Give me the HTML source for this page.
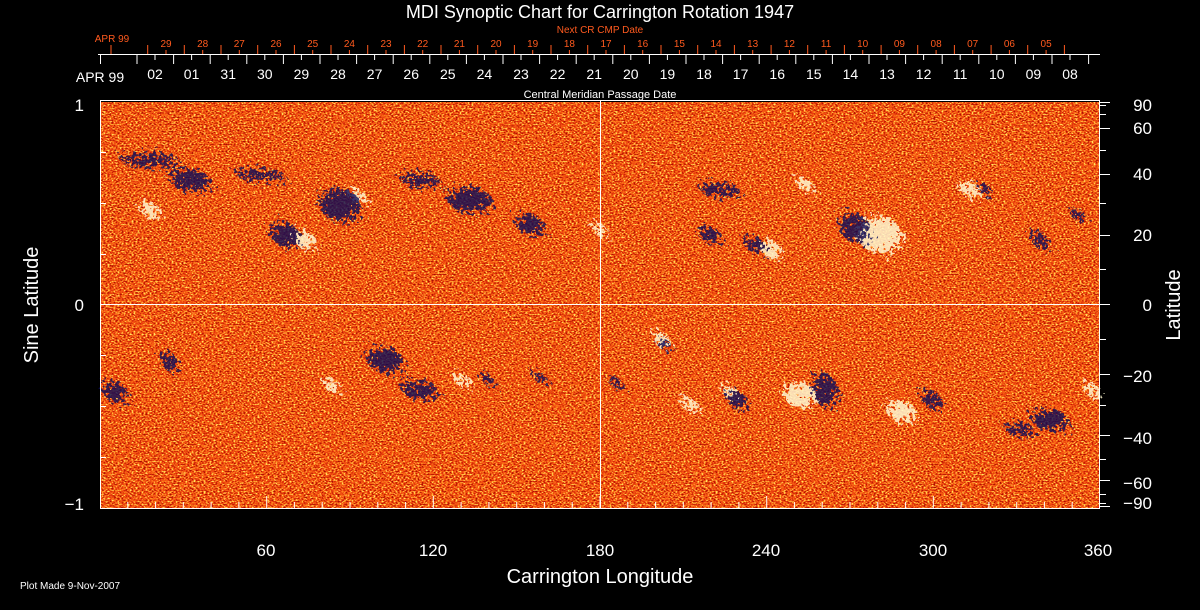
<!DOCTYPE html>
<html><head><meta charset="utf-8"><style>
html,body{margin:0;padding:0;background:#000;}
svg{display:block;font-family:"Liberation Sans",sans-serif;}
</style></head><body>
<svg width="1200" height="610" viewBox="0 0 1200 610">
<defs>
<filter id="noise" x="0" y="0" width="100%" height="100%" color-interpolation-filters="sRGB">
<feTurbulence type="fractalNoise" baseFrequency="0.5 0.7" numOctaves="2" seed="7" result="t"/>
<feColorMatrix in="t" type="matrix" values="1 0 0 0 0  1 0 0 0 0  1 0 0 0 0  0 0 0 0 1"/>
<feComponentTransfer>
<feFuncR type="linear" slope="2.4" intercept="-0.7"/>
<feFuncG type="linear" slope="2.4" intercept="-0.7"/>
<feFuncB type="linear" slope="2.4" intercept="-0.7"/>
</feComponentTransfer>
<feComponentTransfer>
<feFuncR type="table" tableValues="0.65 0.85 0.93 0.98 1 1"/>
<feFuncG type="table" tableValues="0.06 0.15 0.27 0.38 0.58 0.9"/>
<feFuncB type="table" tableValues="0 0.03 0.06 0.08 0.12 0.4"/>
</feComponentTransfer>
</filter>
<filter id="speck" x="-50%" y="-50%" width="200%" height="200%" color-interpolation-filters="sRGB">
<feTurbulence type="fractalNoise" baseFrequency="0.3" numOctaves="2" seed="3" result="n"/>
<feDisplacementMap in="SourceGraphic" in2="n" scale="30"/>
</filter>
</defs>
<rect x="100" y="102" width="1000" height="406" fill="#e04818"/>
<rect x="100" y="102" width="1000" height="406" filter="url(#noise)"/>
<g filter="url(#speck)" fill="#fff8d0" opacity="0.85">
<ellipse cx="880" cy="235" rx="22" ry="18"/><ellipse cx="772" cy="250" rx="10" ry="8"/>
<ellipse cx="305" cy="240" rx="10" ry="8"/><ellipse cx="358" cy="196" rx="8" ry="6"/>
<ellipse cx="662" cy="340" rx="8" ry="7"/><ellipse cx="800" cy="395" rx="16" ry="12"/>
<ellipse cx="902" cy="412" rx="14" ry="10"/><ellipse cx="332" cy="385" rx="8" ry="6"/>
<ellipse cx="462" cy="380" rx="8" ry="6"/><ellipse cx="730" cy="392" rx="7" ry="6"/>
<ellipse cx="970" cy="190" rx="10" ry="7"/><ellipse cx="805" cy="185" rx="8" ry="6"/>
<ellipse cx="600" cy="230" rx="6" ry="6"/><ellipse cx="150" cy="210" rx="10" ry="7"/>
<ellipse cx="1092" cy="390" rx="6" ry="8"/><ellipse cx="690" cy="405" rx="8" ry="6"/>
</g>
<g filter="url(#speck)" fill="#0c0c58" opacity="0.8">
<ellipse cx="190" cy="180" rx="20" ry="10"/><ellipse cx="340" cy="205" rx="20" ry="16"/>
<ellipse cx="285" cy="235" rx="14" ry="12"/><ellipse cx="470" cy="200" rx="22" ry="12"/>
<ellipse cx="710" cy="235" rx="10" ry="8"/><ellipse cx="755" cy="245" rx="10" ry="7"/>
<ellipse cx="855" cy="228" rx="14" ry="14"/><ellipse cx="1040" cy="240" rx="8" ry="8"/>
<ellipse cx="115" cy="392" rx="12" ry="10"/><ellipse cx="170" cy="362" rx="8" ry="9"/>
<ellipse cx="385" cy="360" rx="18" ry="12"/><ellipse cx="665" cy="345" rx="6" ry="5"/>
<ellipse cx="737" cy="400" rx="10" ry="8"/><ellipse cx="825" cy="390" rx="12" ry="16"/>
<ellipse cx="932" cy="400" rx="10" ry="8"/><ellipse cx="1050" cy="420" rx="18" ry="10"/>
<ellipse cx="530" cy="225" rx="14" ry="10"/><ellipse cx="1078" cy="215" rx="6" ry="6"/>
<ellipse cx="985" cy="190" rx="6" ry="5"/><ellipse cx="540" cy="378" rx="6" ry="5"/>
<ellipse cx="616" cy="383" rx="6" ry="5"/><ellipse cx="488" cy="380" rx="6" ry="5"/>
<ellipse cx="150" cy="160" rx="30" ry="6"/><ellipse cx="260" cy="175" rx="25" ry="5"/>
<ellipse cx="420" cy="180" rx="20" ry="6"/><ellipse cx="720" cy="190" rx="20" ry="6"/>
<ellipse cx="420" cy="390" rx="18" ry="8"/><ellipse cx="1020" cy="430" rx="15" ry="5"/>
</g>
<g stroke="#fff" stroke-width="1" fill="none">
<rect x="100.5" y="100.5" width="999" height="408"/>
<line x1="600.5" y1="100" x2="600.5" y2="508"/>
<line x1="100" y1="304.5" x2="1100" y2="304.5"/>
<line x1="98" y1="54.5" x2="1100" y2="54.5"/>
</g>
<g stroke="#fff">
<path d="M127.8 508v-6M155.6 508v-6M183.3 508v-6M211.1 508v-6M238.9 508v-6M266.7 508v-12M294.4 508v-6M322.2 508v-6M350 508v-6M377.8 508v-6M405.6 508v-6M433.3 508v-12M461.1 508v-6M488.9 508v-6M516.7 508v-6M544.4 508v-6M572.2 508v-6M600 508v-12M627.8 508v-6M655.6 508v-6M683.3 508v-6M711.1 508v-6M738.9 508v-6M766.7 508v-12M794.4 508v-6M822.2 508v-6M850 508v-6M877.8 508v-6M905.6 508v-6M933.3 508v-12M961.1 508v-6M988.9 508v-6M1016.7 508v-6M1044.4 508v-6M1072.2 508v-6"/>
<path d="M100 152.5h6M100 203.5h6M100 254.5h6M100 355.5h6M100 406.5h6M100 457.5h6"/>
<path d="M1100 102.5h10M1100 105.5h6M1100 114.5h6M1100 128.5h10M1100 150.5h6M1100 174.5h10M1100 203.5h6M1100 235.5h10M1100 269.5h6M1100 304.5h10M1100 339.5h6M1100 374.5h10M1100 405.5h6M1100 435.5h10M1100 459.5h6M1100 480.5h10M1100 494.5h6M1100 503.5h6M1100 506.5h10"/>
<path d="M155 55v5M191.6 55v5M228.2 55v5M264.8 55v5M301.4 55v5M338 55v5M374.6 55v5M411.2 55v5M447.8 55v5M484.4 55v5M521 55v5M557.6 55v5M594.2 55v5M630.8 55v5M667.4 55v5M704 55v5M740.6 55v5M777.2 55v5M813.8 55v5M850.4 55v5M887 55v5M923.6 55v5M960.2 55v5M996.8 55v5M1033.4 55v5M1070 55v5"/>
<path d="M100.5 55v9M137 55v9M173.6 55v9M210.2 55v9M246.8 55v9M283.4 55v9M320 55v9M356.6 55v9M393.2 55v9M429.8 55v9M466.4 55v9M503 55v9M539.6 55v9M576.2 55v9M612.8 55v9M649.4 55v9M686 55v9M722.6 55v9M759.2 55v9M795.8 55v9M832.4 55v9M869 55v9M905.6 55v9M942.2 55v9M978.8 55v9M1015.4 55v9M1052 55v9M1088.6 55v9"/>
</g>
<g stroke="#ff5a1e">
<path d="M166 50v4M202.7 50v4M239.3 50v4M276 50v4M312.7 50v4M349.4 50v4M386 50v4M422.7 50v4M459.4 50v4M496 50v4M532.7 50v4M569.4 50v4M606 50v4M642.7 50v4M679.4 50v4M716 50v4M752.7 50v4M789.4 50v4M826.1 50v4M862.7 50v4M899.4 50v4M936.1 50v4M972.7 50v4M1009.4 50v4M1046.1 50v4"/>
<path d="M111 45v9M147.7 45v9M184.3 45v9M221 45v9M257.7 45v9M294.4 45v9M331 45v9M367.7 45v9M404.4 45v9M441 45v9M477.7 45v9M514.4 45v9M551 45v9M587.7 45v9M624.4 45v9M661 45v9M697.7 45v9M734.4 45v9M771.1 45v9M807.7 45v9M844.4 45v9M881.1 45v9M917.7 45v9M954.4 45v9M991.1 45v9M1027.7 45v9M1064.4 45v9"/>
</g>
<g fill="#fff" font-size="14" text-anchor="middle">
<text x="155" y="79">02</text><text x="191.6" y="79">01</text><text x="228.2" y="79">31</text><text x="264.8" y="79">30</text><text x="301.4" y="79">29</text><text x="338" y="79">28</text><text x="374.6" y="79">27</text><text x="411.2" y="79">26</text><text x="447.8" y="79">25</text><text x="484.4" y="79">24</text><text x="521" y="79">23</text><text x="557.6" y="79">22</text><text x="594.2" y="79">21</text><text x="630.8" y="79">20</text><text x="667.4" y="79">19</text><text x="704" y="79">18</text><text x="740.6" y="79">17</text><text x="777.2" y="79">16</text><text x="813.8" y="79">15</text><text x="850.4" y="79">14</text><text x="887" y="79">13</text><text x="923.6" y="79">12</text><text x="960.2" y="79">11</text><text x="996.8" y="79">10</text><text x="1033.4" y="79">09</text><text x="1070" y="79">08</text>
</g>
<g fill="#ff5a1e" font-size="10" text-anchor="middle">
<text x="166" y="47">29</text><text x="202.7" y="47">28</text><text x="239.3" y="47">27</text><text x="276" y="47">26</text><text x="312.7" y="47">25</text><text x="349.4" y="47">24</text><text x="386" y="47">23</text><text x="422.7" y="47">22</text><text x="459.4" y="47">21</text><text x="496" y="47">20</text><text x="532.7" y="47">19</text><text x="569.4" y="47">18</text><text x="606" y="47">17</text><text x="642.7" y="47">16</text><text x="679.4" y="47">15</text><text x="716" y="47">14</text><text x="752.7" y="47">13</text><text x="789.4" y="47">12</text><text x="826.1" y="47">11</text><text x="862.7" y="47">10</text><text x="899.4" y="47">09</text><text x="936.1" y="47">08</text><text x="972.7" y="47">07</text><text x="1009.4" y="47">06</text><text x="1046.1" y="47">05</text>
</g>
<g fill="#fff">
<text x="600" y="18" font-size="18" text-anchor="middle">MDI Synoptic Chart for Carrington Rotation 1947</text>
<text x="600" y="33" font-size="10" fill="#ff5a1e" text-anchor="middle">Next CR CMP Date</text>
<text x="112" y="42" font-size="10" fill="#ff5a1e" text-anchor="middle">APR 99</text>
<text x="100" y="82" font-size="14" text-anchor="middle">APR 99</text>
<text x="600" y="98" font-size="11" text-anchor="middle">Central Meridian Passage Date</text>
<g font-size="17" text-anchor="end">
<text x="84" y="111">1</text><text x="84" y="311">0</text><text x="84" y="510">−1</text>
</g>
<g font-size="17" text-anchor="end">
<text x="1152" y="111">90</text><text x="1152" y="134">60</text><text x="1152" y="180">40</text><text x="1152" y="241">20</text><text x="1152" y="311">0</text><text x="1152" y="382">−20</text><text x="1152" y="444">−40</text><text x="1152" y="489">−60</text><text x="1152" y="509">−90</text>
</g>
<g font-size="17" text-anchor="middle">
<text x="266" y="556">60</text><text x="433" y="556">120</text><text x="600" y="556">180</text><text x="766" y="556">240</text><text x="933" y="556">300</text><text x="1098" y="556">360</text>
</g>
<text x="600" y="583" font-size="20" text-anchor="middle">Carrington Longitude</text>
<text transform="translate(38,305) rotate(-90)" font-size="20" text-anchor="middle">Sine Latitude</text>
<text transform="translate(1180,305) rotate(-90)" font-size="20" text-anchor="middle">Latitude</text>
<text x="20" y="589" font-size="10">Plot Made  9-Nov-2007</text>
</g>
</svg>
</body></html>
